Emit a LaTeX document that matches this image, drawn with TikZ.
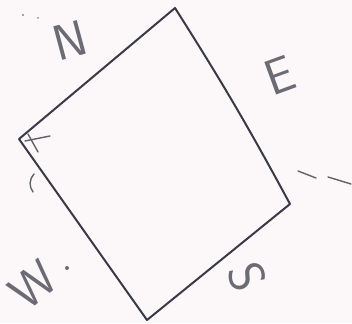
\documentclass[tikz,border=0pt]{standalone}
\usepackage{tikz}

\definecolor{pencil}{RGB}{58,58,70}
\definecolor{paper}{RGB}{252,248,250}

\begin{document}
\begin{tikzpicture}[x=1pt, y=-1pt,
        edge/.style={draw=pencil, line width=2pt, line cap=round, line join=round},
        stroke/.style={draw=pencil!80, line width=1.4pt, line cap=round},
        dir/.style={text=pencil!75, font=\sffamily\fontsize{50}{50}\selectfont, inner sep=0pt}
    ]
        \fill[paper] (0,0) rectangle (352,323);
        \useasboundingbox (0,0) rectangle (352,323);
        % corners of the plot
        \coordinate (top)    at (175,8);
        \coordinate (right)  at (290,204);
        \coordinate (bottom) at (147,320);
        \coordinate (left)   at (19,139);
        \draw[edge] (left) -- (top) to[bend left=2] (right) -- (bottom) -- (left);
        % compass letters
        \node[dir, rotate=15]  (north) at (70,40)  {N};
        \node[dir, rotate=20]  (east)  at (280,75) {E};
        \node[dir, rotate=-70] (south) at (247,277) {S};
        \node[dir, rotate=40]  (west)  at (33,285) {W};
        \fill[pencil!75] (67,268) circle (2pt);
        % small marks
        \draw[stroke] (298,171) -- (316,178);
        \draw[stroke] (328,177) -- (351,184);
        \draw[stroke] (34,174) to[bend right=40] (33,192);
        \draw[stroke] (25,141) -- (50,136);
        \draw[stroke] (28,134) -- (38,152);
        \fill[pencil!60] (23,15) circle (1.2pt);
        \fill[pencil!60] (38,18) circle (1pt);
    \end{tikzpicture}
\end{document}
